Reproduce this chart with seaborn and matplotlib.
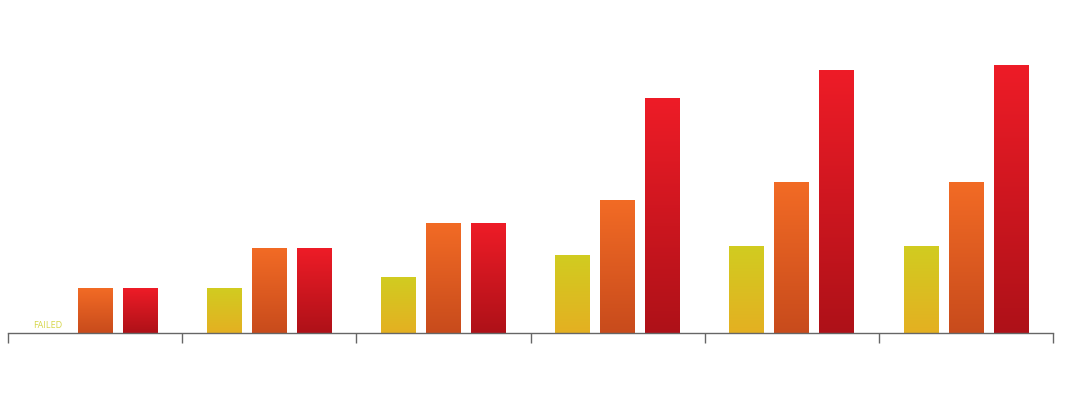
import numpy as np
import pandas as pd
from matplotlib import pyplot as plt
from matplotlib.colors import LinearSegmentedColormap
import seaborn as sns

# values (baseline = 0)
groups = ['1', '2', '3', '4', '5', '6']
series = ['low', 'mid', 'high']
low = [0, 45, 56, 78, 87, 87]
mid = [45, 85, 110, 133, 151, 151]
high = [45, 85, 110, 235, 263, 268]

# gradient (top, bottom) for each series
gradients = {
    'low': ('#d1cc20', '#e4b022'),
    'mid': ('#f26b25', '#c84b1c'),
    'high': ('#ee1c27', '#ae1118'),
}

df = pd.DataFrame({
    'group': groups * 3,
    'series': [s for s in series for _ in groups],
    'value': low + mid + high,
})

sns.set_style('white')
fig = plt.figure(figsize=(10.66, 3.96), dpi=100)
ax = fig.add_axes([8 / 1066, 63 / 396, 1045 / 1066, 333 / 396])

sns.barplot(data=df, x='group', y='value', hue='series', hue_order=series,
            order=groups, width=0.776, gap=0.23, legend=False, ax=ax,
            errorbar=None, linewidth=0)

# replace flat fills with vertical gradients clipped to each bar
grad = np.linspace(0, 1, 256).reshape(-1, 1)
for name, container in zip(series, ax.containers):
    top, bottom = gradients[name]
    cmap = LinearSegmentedColormap.from_list(name, [top, bottom])
    for bar in container:
        x0, y0 = bar.get_x(), bar.get_y()
        w, h = bar.get_width(), bar.get_height()
        if h <= 0:
            continue
        im = ax.imshow(grad, cmap=cmap, aspect='auto',
                       extent=(x0, x0 + w, y0, y0 + h), origin='upper', zorder=2)
        im.set_clip_path(bar)
        bar.set_facecolor('none')

ax.set_xlim(-0.5, 5.5)
ax.set_ylim(0, 333)

# the first group has no 'low' bar
ax.text(-0.27, 8, 'FAILED', color='#d6d64a', fontsize=6.5, ha='center', va='center',
        family='Open Sans')

for side in ['top', 'left', 'right']:
    ax.spines[side].set_visible(False)
ax.spines['bottom'].set_color('#666666')
ax.spines['bottom'].set_linewidth(1)
ax.set_xticks(np.arange(-0.5, 6, 1))
ax.set_xticklabels([])
ax.set_yticks([])
ax.tick_params(axis='x', bottom=True, length=7.2, width=1, color='#666666',
               direction='out')
ax.set_xlabel('')
ax.set_ylabel('')

fig.savefig('out.png', dpi=100)
